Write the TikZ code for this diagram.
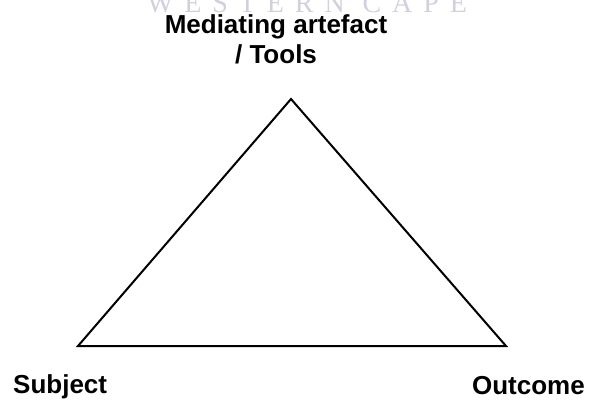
\documentclass[tikz,border=0pt]{standalone}
\usepackage{fontspec}
\setmainfont{Liberation Sans}
\newfontfamily\wmfont[LetterSpace=39]{Liberation Serif}
\definecolor{wmgray}{RGB}{208,208,222}
\begin{document}
\begin{tikzpicture}[x=1pt, y=-1pt,
    label/.style={font=\bfseries\fontsize{26}{30}\selectfont, align=center, inner sep=0pt}]
        % Frame
        \useasboundingbox (0,0) rectangle (592,401);
        \clip (0,0) rectangle (592,401);
        % Watermark
        \node[anchor=base, font=\wmfont\fontsize{28}{28}\selectfont, text=wmgray, inner sep=0pt] (wm) at (307,13) {WESTERN CAPE};
        % Triangle corners
        \coordinate (tools) at (291,99);
        \coordinate (subject) at (78,346);
        \coordinate (outcome) at (506,346);
        \draw[line width=2pt, line join=miter] (tools) -- (outcome) -- (subject) -- cycle;
        % Labels
        \node[label, anchor=base] (artefact) at (276,64) {Mediating artefact\\/ Tools};
        \node[label, anchor=base west] (subj) at (13,393) {Subject};
        \node[label, anchor=base east] (out) at (585,394) {Outcome};
    \end{tikzpicture}
\end{document}
